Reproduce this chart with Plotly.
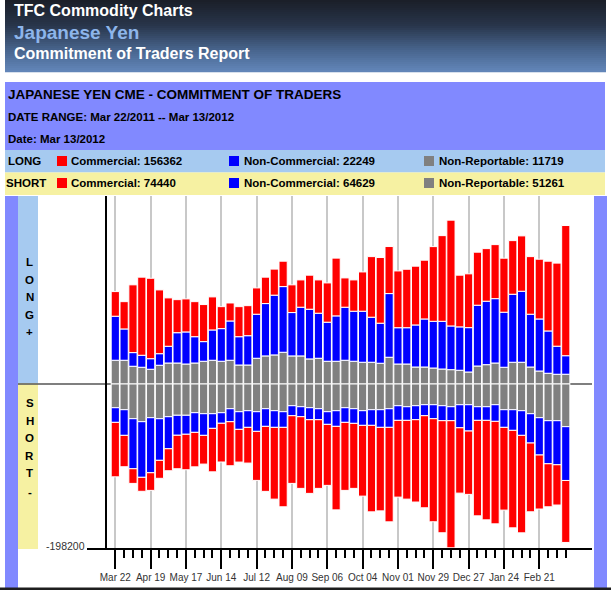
import plotly.graph_objects as go

# ---------------- data ----------------
tick_labels = ["Mar 22", "Apr 19", "May 17", "Jun 14", "Jul 12", "Aug 09", "Sep 06",
               "Oct 04", "Nov 01", "Nov 29", "Dec 27", "Jan 24", "Feb 21"]

long_comm = [29600, 32800, 81400, 93800, 96600, 76600, 58100, 39700, 39700, 42100, 44500, 39700, 26400,
             21600, 36100, 36100, 31600, 31700, 31300, 30500, 33300, 32800, 40900, 40000, 47200, 69400,
             35200, 37600, 47200, 72800, 78900, 56500, 68200, 70200, 70600, 70600, 89700, 102900, 127100,
             62100, 64600, 63700, 63200, 64900, 64900, 64400, 66500, 69200, 71800, 83800, 99800, 156362]
long_noncomm = [52900, 37600, 16400, 14400, 12700, 13900, 20100, 36400, 38500, 31600, 23600, 36400, 39200,
                47200, 34000, 35200, 52900, 62900, 71800, 78900, 52100, 58500, 59700, 54100, 46900, 54500,
                63700, 60100, 61300, 54100, 48100, 76500, 43600, 43600, 50500, 57700, 56100, 57300, 52500,
                52100, 53300, 73000, 76200, 77300, 66100, 81700, 85300, 63400, 62500, 50800, 33700, 22249]
long_nonrep = [28500, 28500, 21300, 20100, 17700, 22500, 25200, 25200, 24000, 25200, 27300, 28500, 27300,
               28500, 22800, 22800, 30900, 33700, 34900, 38100, 33700, 33700, 30100, 30900, 27300, 27300,
               28500, 27300, 26100, 26100, 24900, 32100, 24000, 24000, 20400, 20400, 19200, 18000, 17200,
               16500, 14400, 21600, 23200, 25200, 20100, 26100, 26100, 20400, 15600, 12900, 11700, 11719]

short_comm = [65400, 37700, 17600, 16800, 21200, 21600, 26400, 40200, 42600, 41400, 34500, 52200, 46500,
              52900, 39300, 42900, 58900, 78100, 86200, 95400, 81300, 86100, 88500, 82500, 73300, 100300,
              81700, 78100, 85000, 103900, 100300, 113500, 92200, 94600, 98900, 110600, 123800, 134600, 152700,
              78500, 76100, 114700, 119500, 123100, 99400, 117100, 117100, 82600, 64900, 51700, 48400, 74440]
short_noncomm = [17600, 30800, 60100, 66800, 66100, 50000, 38500, 24000, 22800, 23600, 26000, 17600, 12700,
                 15600, 21200, 20000, 23600, 21200, 20000, 18800, 12000, 12000, 14400, 13200, 15200, 18800,
                 17600, 17600, 17600, 18800, 21200, 22400, 17600, 16400, 16800, 13200, 16800, 18000, 16800,
                 27700, 31600, 16400, 16400, 20000, 21200, 24800, 29600, 35200, 44800, 51700, 52900, 64629]
short_nonrep = [28500, 30900, 41700, 45300, 40500, 41700, 39300, 37600, 37600, 34500, 35700, 35700, 34500,
                29700, 33300, 32100, 33300, 29700, 32100, 33300, 26100, 27300, 28500, 29700, 33300, 32100,
                28500, 29700, 32100, 30900, 30900, 29700, 26100, 27300, 26100, 24900, 24900, 26100, 27300,
                24900, 24900, 27300, 27300, 24900, 30900, 30900, 32100, 35700, 40500, 44100, 44100, 51261]

y_min = -198200
y_max = 225800

# ---------------- layout helpers ----------------
W, H = 611, 590
L, R, T, B = 107, 19, 196, 41
PW, PH = W - L - R, H - T - B
FONT = "Liberation Sans, Arial, sans-serif"

def X(px):
    return (px - L) / PW

def Y(py):
    return (H - B - py) / PH

shapes = []
annotations = []

def rect(x0, y0, x1, y1, color, layer="below"):
    shapes.append(dict(type="rect", xref="paper", yref="paper",
                       x0=X(x0), x1=X(x1), y0=Y(y1), y1=Y(y0),
                       fillcolor=color, line=dict(width=0), layer=layer))

def text(x, y, s, size, color="black", bold=True, anchor="left"):
    annotations.append(dict(xref="paper", yref="paper", x=X(x), y=Y(y),
                            text=f"<b>{s}</b>" if bold else s, showarrow=False,
                            xanchor=anchor, yanchor="middle", borderpad=0,
                            font=dict(size=size, color=color, family=FONT)))

# header gradient
stops = [(0.0, (26, 30, 40)), (0.35, (40, 53, 74)), (0.7, (72, 101, 142)), (1.0, (99, 135, 186))]
def grad(t):
    for (t0, c0), (t1, c1) in zip(stops[:-1], stops[1:]):
        if t0 <= t <= t1:
            f = (t - t0) / (t1 - t0)
            return "rgb(%d,%d,%d)" % tuple(round(a + (b - a) * f) for a, b in zip(c0, c1))
    return "rgb(%d,%d,%d)" % stops[-1][1]
n = 36
for k in range(n):
    rect(5, 72 * k / n, 606, 72 * (k + 1) / n + 0.3, grad((k + 0.5) / n))

PANEL = "#8189ff"
LBLUE = "#a6caf0"
YELLOW = "#f6f1a2"
rect(5, 82, 605, 150, PANEL)
rect(5, 150, 605, 172.5, LBLUE)
rect(5, 172.5, 605, 195, YELLOW)
rect(5, 196, 18, 588, PANEL)
rect(18, 196, 38, 383.5, LBLUE)
rect(18, 383.5, 38, 549, YELLOW)
rect(594, 196, 607, 588, PANEL)
rect(0, 587.5, 611, 590, "#1e1e1e")

# legend squares
for yc in (161, 183):
    rect(57, yc - 5, 67, yc + 5, "#ff0000", layer="above")
    rect(229, yc - 5, 239, yc + 5, "#0000ff", layer="above")
    rect(424, yc - 5, 434, yc + 5, "#808080", layer="above")

# baseline and bottom axis line
shapes.append(dict(type="line", xref="paper", yref="y", x0=X(18), x1=X(592), y0=0, y1=0,
                   line=dict(color="#555555", width=1.5), layer="below"))
shapes.append(dict(type="line", xref="paper", yref="paper", x0=X(87), x1=X(592), y0=0, y1=0,
                   line=dict(color="black", width=2), layer="above"))

# texts
text(13, 10, "TFC Commodity Charts", 16, "white")
text(13, 32, "Japanese Yen", 19, "#8db5ea")
text(13, 53, "Commitment of Traders Report", 16, "white")
text(7, 95, "JAPANESE YEN CME - COMMITMENT OF TRADERS", 13.5)
text(7, 117, "DATE RANGE: Mar 22/2011 -- Mar 13/2012", 11.5)
text(7, 139, "Date: Mar 13/2012", 11.5)
text(7, 161, "LONG", 11.5)
text(5, 183, "SHORT", 11.5)
text(70, 161, f"Commercial: {long_comm[-1]}", 11.5)
text(243, 161, f"Non-Commercial: {long_noncomm[-1]}", 11.5)
text(438, 161, f"Non-Reportable: {long_nonrep[-1]}", 11.5)
text(70, 183, f"Commercial: {short_comm[-1]}", 11.5)
text(243, 183, f"Non-Commercial: {short_noncomm[-1]}", 11.5)
text(438, 183, f"Non-Reportable: {short_nonrep[-1]}", 11.5)
for ch, yy in zip("LONG+", (262, 279.5, 297, 314.5, 332)):
    text(29.5, yy, ch, 11.5, anchor="center")
for ch, yy in zip("SHORT-", (403, 420.5, 438, 455.5, 473, 492)):
    text(29.5, yy, ch, 11.5, anchor="center")
text(86, 546, str(y_min), 10.5, "#333333", bold=False, anchor="right")

# ---------------- traces ----------------
x = list(range(len(long_comm)))
bw = 0.93
def bar(vals, color, sign):
    return go.Bar(x=x, y=[sign * v for v in vals], width=bw, hoverinfo="skip",
                  marker=dict(color=color, line=dict(color="white", width=1)))

fig = go.Figure([
    bar(long_nonrep, "#808080", 1), bar(short_nonrep, "#808080", -1),
    bar(long_noncomm, "#0000ff", 1), bar(short_noncomm, "#0000ff", -1),
    bar(long_comm, "#ff0000", 1), bar(short_comm, "#ff0000", -1),
])

major = list(range(0, len(x), 4))[:len(tick_labels)]
fig.update_layout(
    width=W, height=H, margin=dict(l=L, r=R, t=T, b=B, pad=0, autoexpand=False),
    paper_bgcolor="white", plot_bgcolor="rgba(0,0,0,0)",
    barmode="relative", showlegend=False,
    shapes=shapes, annotations=annotations,
    xaxis=dict(range=[-0.94, 53.97], tickmode="array", tickvals=major, ticktext=tick_labels,
               ticks="outside", ticklen=19, tickwidth=2, tickcolor="black", automargin=False,
               showgrid=True, gridcolor="#c8c8c8", gridwidth=1.5,
               showline=False, zeroline=False,
               tickfont=dict(size=10, color="#333333", family=FONT),
               minor=dict(tickmode="array", tickvals=[i for i in x if i % 4],
                          ticks="outside", ticklen=8, tickwidth=2, tickcolor="black",
                          showgrid=False)),
    yaxis=dict(range=[y_min, y_max], showticklabels=False, showgrid=False, zeroline=False,
               automargin=False,
               showline=True, linecolor="black", linewidth=2, ticks=""),
)

fig.write_html("out.html", config={"displayModeBar": False},
               post_script="document.body.style.margin='0';document.body.style.overflow='hidden';")
